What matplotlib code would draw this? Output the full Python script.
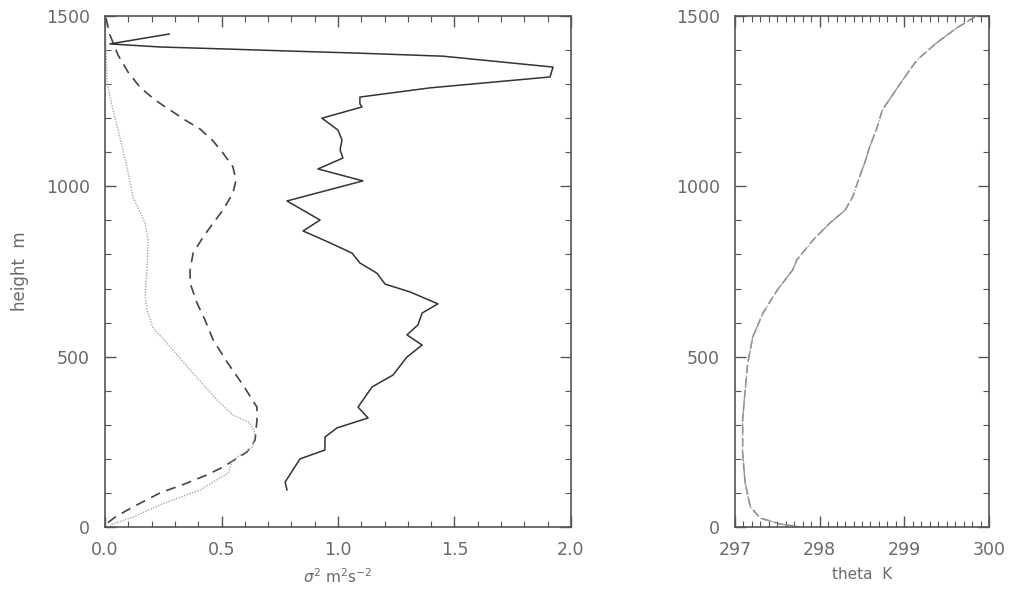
import matplotlib.pyplot as plt
from matplotlib.ticker import MultipleLocator

# variance profiles (left panel)
solid_x = [0.275, 0.021, 0.236, 0.524, 0.794, 1.086, 1.451, 1.923, 1.910, 1.395,
           1.094, 1.094, 1.103, 0.931, 1.000, 1.017, 1.009, 1.021, 0.914, 1.107,
           0.781, 0.923, 0.850, 0.966, 1.060, 1.094, 1.167, 1.202, 1.309, 1.429,
           1.361, 1.343, 1.296, 1.361, 1.296, 1.236, 1.146, 1.086, 1.129, 0.996,
           0.944, 0.944, 0.837, 0.773, 0.781]
solid_h = [1447, 1418, 1409, 1403, 1397, 1391, 1382, 1350, 1321, 1289,
           1262, 1242, 1233, 1200, 1165, 1136, 1107, 1083, 1051, 1016,
           957, 901, 869, 834, 804, 775, 745, 713, 690, 655,
           628, 593, 564, 534, 499, 446, 411, 352, 320, 291,
           264, 226, 200, 132, 109]

dash_x = [0.004, 0.021, 0.056, 0.099, 0.150, 0.215, 0.279, 0.343, 0.408, 0.464,
          0.506, 0.549, 0.562, 0.549, 0.506, 0.464, 0.421, 0.378, 0.365, 0.365,
          0.395, 0.429, 0.464, 0.524, 0.592, 0.652, 0.652, 0.644, 0.609, 0.506,
          0.438, 0.352, 0.236, 0.120, 0.043, 0.0]
dash_h = [1494, 1444, 1385, 1335, 1291, 1253, 1224, 1195, 1168, 1133,
          1098, 1057, 1018, 980, 930, 892, 851, 804, 754, 716,
          657, 608, 549, 484, 417, 352, 314, 255, 220, 176,
          153, 129, 100, 59, 29, 6]

dot_x = [0.0, 0.009, 0.034, 0.056, 0.094, 0.120, 0.172, 0.185, 0.180, 0.172,
         0.180, 0.206, 0.266, 0.365, 0.481, 0.549, 0.622, 0.644, 0.635, 0.549,
         0.528, 0.408, 0.236, 0.120, 0.021]
dot_h = [1497, 1303, 1224, 1165, 1057, 969, 892, 842, 754, 675,
         637, 584, 540, 461, 373, 329, 305, 276, 235, 197,
         158, 109, 65, 29, 6]

# potential temperature profile (right panel)
theta = [299.83, 299.62, 299.38, 299.15, 298.98, 298.86, 298.74, 298.68, 298.59, 298.53,
         298.45, 298.39, 298.30, 298.12, 297.92, 297.73, 297.68, 297.50, 297.33, 297.21,
         297.15, 297.12, 297.09, 297.09, 297.12, 297.18, 297.30, 297.53, 297.77]
theta_h = [1497, 1465, 1421, 1371, 1312, 1268, 1224, 1174, 1115, 1068,
           1013, 969, 930, 892, 842, 784, 754, 696, 628, 558,
           481, 402, 314, 217, 129, 59, 26, 9, 0]

axis_col = '#555555'
text_col = '#6a6a6a'

fig = plt.figure(figsize=(10.12, 5.92), dpi=100)
ax1 = fig.add_axes([0.1038, 0.1098, 0.4604, 0.8632])
ax2 = fig.add_axes([0.7263, 0.1098, 0.2510, 0.8632])

ax1.plot(solid_x, solid_h, color='#333333', lw=1.1, ls='-')
ax1.plot(dash_x, dash_h, color='#444444', lw=1.2, ls=(0, (6, 4)))
ax1.plot(dot_x, dot_h, color='#a8a8a8', lw=1.0, ls=(0, (1, 1)))
ax1.set_xlim(0, 2)
ax1.set_ylim(0, 1500)
ax1.xaxis.set_major_locator(MultipleLocator(0.5))
ax1.xaxis.set_minor_locator(MultipleLocator(0.1))
ax1.yaxis.set_major_locator(MultipleLocator(500))
ax1.yaxis.set_minor_locator(MultipleLocator(100))
ax1.xaxis.set_major_formatter(plt.FuncFormatter(lambda v, p: f'{v:.1f}'))
ax1.set_xlabel(r'$\sigma^2$ m$^2$s$^{-2}$', color=text_col, fontsize=11, labelpad=6)
ax1.set_ylabel('height  m', color=text_col, fontsize=12, labelpad=12)

ax2.plot(theta, theta_h, color='#888888', lw=1.1, ls=(0, (5, 3)))
ax2.plot(theta, theta_h, color='#999999', lw=1.0, ls='-.')
ax2.set_xlim(297, 300)
ax2.set_ylim(0, 1500)
ax2.xaxis.set_major_locator(MultipleLocator(1))
ax2.xaxis.set_minor_locator(MultipleLocator(0.1))
ax2.yaxis.set_major_locator(MultipleLocator(500))
ax2.yaxis.set_minor_locator(MultipleLocator(100))
ax2.set_xlabel('theta  K', color=text_col, fontsize=11, labelpad=6)

for ax in (ax1, ax2):
    for s in ax.spines.values():
        s.set_color(axis_col)
        s.set_linewidth(1.2)
    ax.tick_params(which='both', direction='in', top=True, right=True,
                   color=axis_col, labelcolor=text_col, labelsize=12.5)
    ax.tick_params(which='major', length=8, width=1.0)
    ax.tick_params(axis='x', which='major', pad=10)
    ax.tick_params(axis='y', which='major', pad=11)
    ax.tick_params(which='minor', length=4, width=0.8)

fig.savefig('out.png', dpi=100)
